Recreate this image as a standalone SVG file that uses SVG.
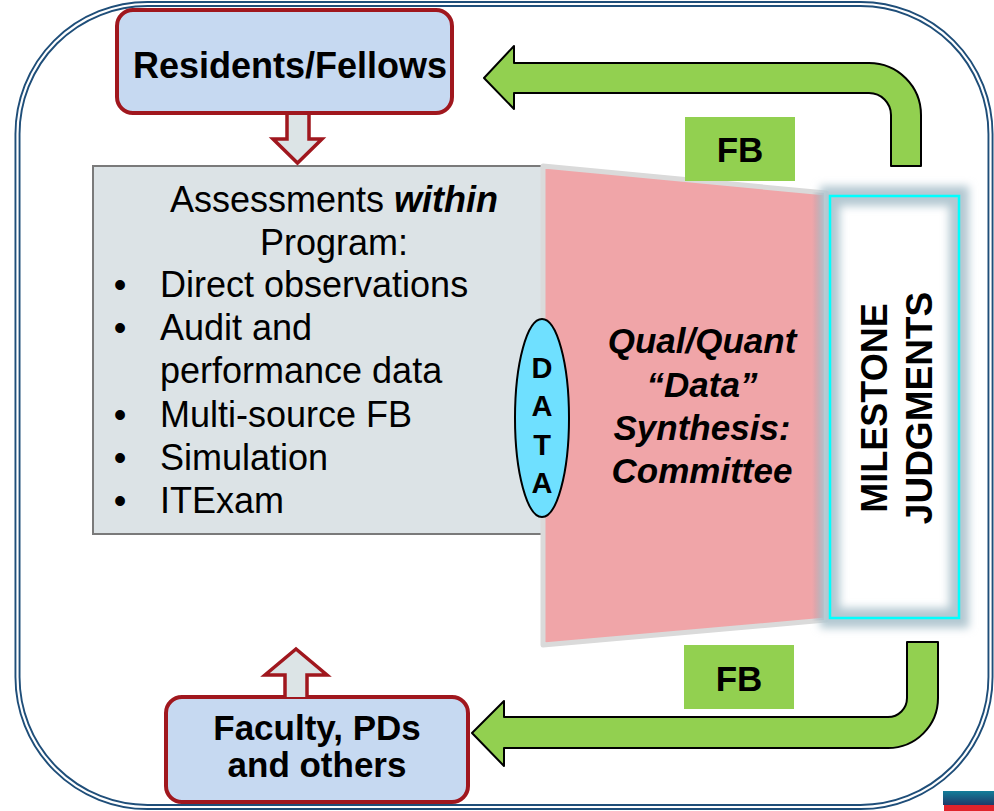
<svg xmlns="http://www.w3.org/2000/svg" width="994" height="811" viewBox="0 0 994 811">
<defs>
<style>
.t{font-family:"Liberation Sans",Arial,sans-serif;fill:#000}
.b{font-weight:bold}
.bi{font-weight:bold;font-style:italic}
.box{fill:#C6D9F1;stroke:#A0171E;stroke-width:4}
.rarrow{fill:#DCE4E6;stroke:#A0171E;stroke-width:3.5;stroke-linejoin:miter}
.garrow{fill:#92D050;stroke:#000;stroke-width:2;stroke-linejoin:round}
.fb{fill:#92D050}
</style>
<filter id="blur" x="-20%" y="-20%" width="140%" height="140%"><feGaussianBlur stdDeviation="4"/></filter>
<linearGradient id="pinkEdge" x1="0" y1="0" x2="1" y2="0">
<stop offset="0" stop-color="#8a8a9a" stop-opacity="0"/>
<stop offset="1" stop-color="#8a8a9a" stop-opacity="0.45"/>
</linearGradient>
<linearGradient id="corner" x1="0" y1="0" x2="0" y2="1">
<stop offset="0" stop-color="#137E9A"/>
<stop offset="1" stop-color="#1F3A68"/>
</linearGradient>
</defs>
<rect width="994" height="811" fill="#fff"/>
<g id="frame">
<rect x="17.5" y="4" width="973" height="803" rx="130" ry="130" fill="none" stroke="#1F4E79" stroke-width="6"/>
<rect x="17.5" y="4" width="973" height="803" rx="130" ry="130" fill="none" stroke="#fff" stroke-width="2.2"/>
<rect x="943" y="791" width="51" height="14" fill="url(#corner)"/>
<rect x="944" y="805" width="50" height="6" fill="#E0232B"/>
</g>
<g id="assessments">
<rect x="93" y="166" width="452" height="368" fill="#DCE3E6" stroke="#7A7A7A" stroke-width="2"/>
<text class="t" x="334" y="212" font-size="36" text-anchor="middle">Assessments <tspan class="bi">within</tspan></text>
<text class="t" x="334" y="255" font-size="36" text-anchor="middle">Program:</text>
<g font-size="36">
<text class="t" x="120" y="297" text-anchor="middle">•</text>
<text class="t" x="160" y="297">Direct observations</text>
<text class="t" x="120" y="340" text-anchor="middle">•</text>
<text class="t" x="160" y="340">Audit and</text>
<text class="t" x="160" y="383">performance data</text>
<text class="t" x="120" y="427" text-anchor="middle">•</text>
<text class="t" x="160" y="427">Multi-source FB</text>
<text class="t" x="120" y="470" text-anchor="middle">•</text>
<text class="t" x="160" y="470">Simulation</text>
<text class="t" x="120" y="513" text-anchor="middle">•</text>
<text class="t" x="160" y="513">ITExam</text>
</g>
</g>
<g id="synthesis">
<polygon points="543,166 826,193 826,620 543,645" fill="#F0A5A8" stroke="#DADADA" stroke-width="5" stroke-linejoin="round"/>
<polygon points="812,192 824,193 824,620 812,621" fill="url(#pinkEdge)"/>
<g font-size="35" text-anchor="middle">
<text class="t bi" x="702" y="353">Qual/Quant</text>
<text class="t bi" x="702" y="397">“Data”</text>
<text class="t bi" x="702" y="440">Synthesis:</text>
<text class="t bi" x="702" y="483">Committee</text>
</g>
</g>
<g id="data">
<ellipse cx="542" cy="418" rx="27" ry="99" fill="#6FE0FF" stroke="#000" stroke-width="2"/>
<g font-size="29" text-anchor="middle">
<text class="t b" x="542" y="378">D</text>
<text class="t b" x="542" y="416">A</text>
<text class="t b" x="542" y="455">T</text>
<text class="t b" x="542" y="493">A</text>
</g>
</g>
<g id="milestone">
<rect x="830" y="196" width="129" height="422" fill="#fff"/>
<rect x="830" y="196" width="129" height="422" fill="none" stroke="#B3C8D1" stroke-width="20" filter="url(#blur)"/>
<rect x="830" y="196" width="129" height="422" fill="none" stroke="#00FFFF" stroke-width="2.5"/>
<text class="t b" font-size="36" text-anchor="middle" transform="translate(887,408) rotate(-90)">MILESTONE</text>
<text class="t b" font-size="37" text-anchor="middle" transform="translate(932,408) rotate(-90)">JUDGMENTS</text>
</g>
<g id="residents">
<rect class="box" x="117" y="10" width="335" height="103" rx="16" ry="16"/>
<text class="t b" x="290" y="78" font-size="36" text-anchor="middle">Residents/Fellows</text>
</g>
<g id="faculty">
<rect class="box" x="166" y="697" width="302" height="105" rx="16" ry="16"/>
<text class="t b" x="317" y="740" font-size="35" text-anchor="middle">Faculty, PDs</text>
<text class="t b" x="317" y="777" font-size="35" text-anchor="middle">and others</text>
</g>
<g id="fb-top">
<rect class="fb" x="685" y="117" width="110" height="64"/>
<text class="t b" x="740" y="162" font-size="35" text-anchor="middle">FB</text>
</g>
<g id="fb-bottom">
<rect class="fb" x="684" y="645" width="110" height="64"/>
<text class="t b" x="739" y="691" font-size="35" text-anchor="middle">FB</text>
</g>
<g id="connectors">
<path class="rarrow" d="M287,115 L287,139 L273,139 L297.5,163 L322,139 L309,139 L309,115"/>
<path class="rarrow" d="M285,697 L285,675 L265,675 L296,649 L327,675 L307,675 L307,697"/>
<path class="garrow" d="M484,78 L514,46 L514,63 L869,63 A52,52 0 0 1 921,115 L921,166 L891,166 L891,115 A22,22 0 0 0 869,93 L514,93 L514,109 Z"/>
<path class="garrow" d="M472,733 L504,701 L504,717 L888,717 A19,19 0 0 0 907,698 L907,642 L938,642 L938,698 A50,50 0 0 1 888,748 L504,748 L504,766 Z"/>
</g>
</svg>
